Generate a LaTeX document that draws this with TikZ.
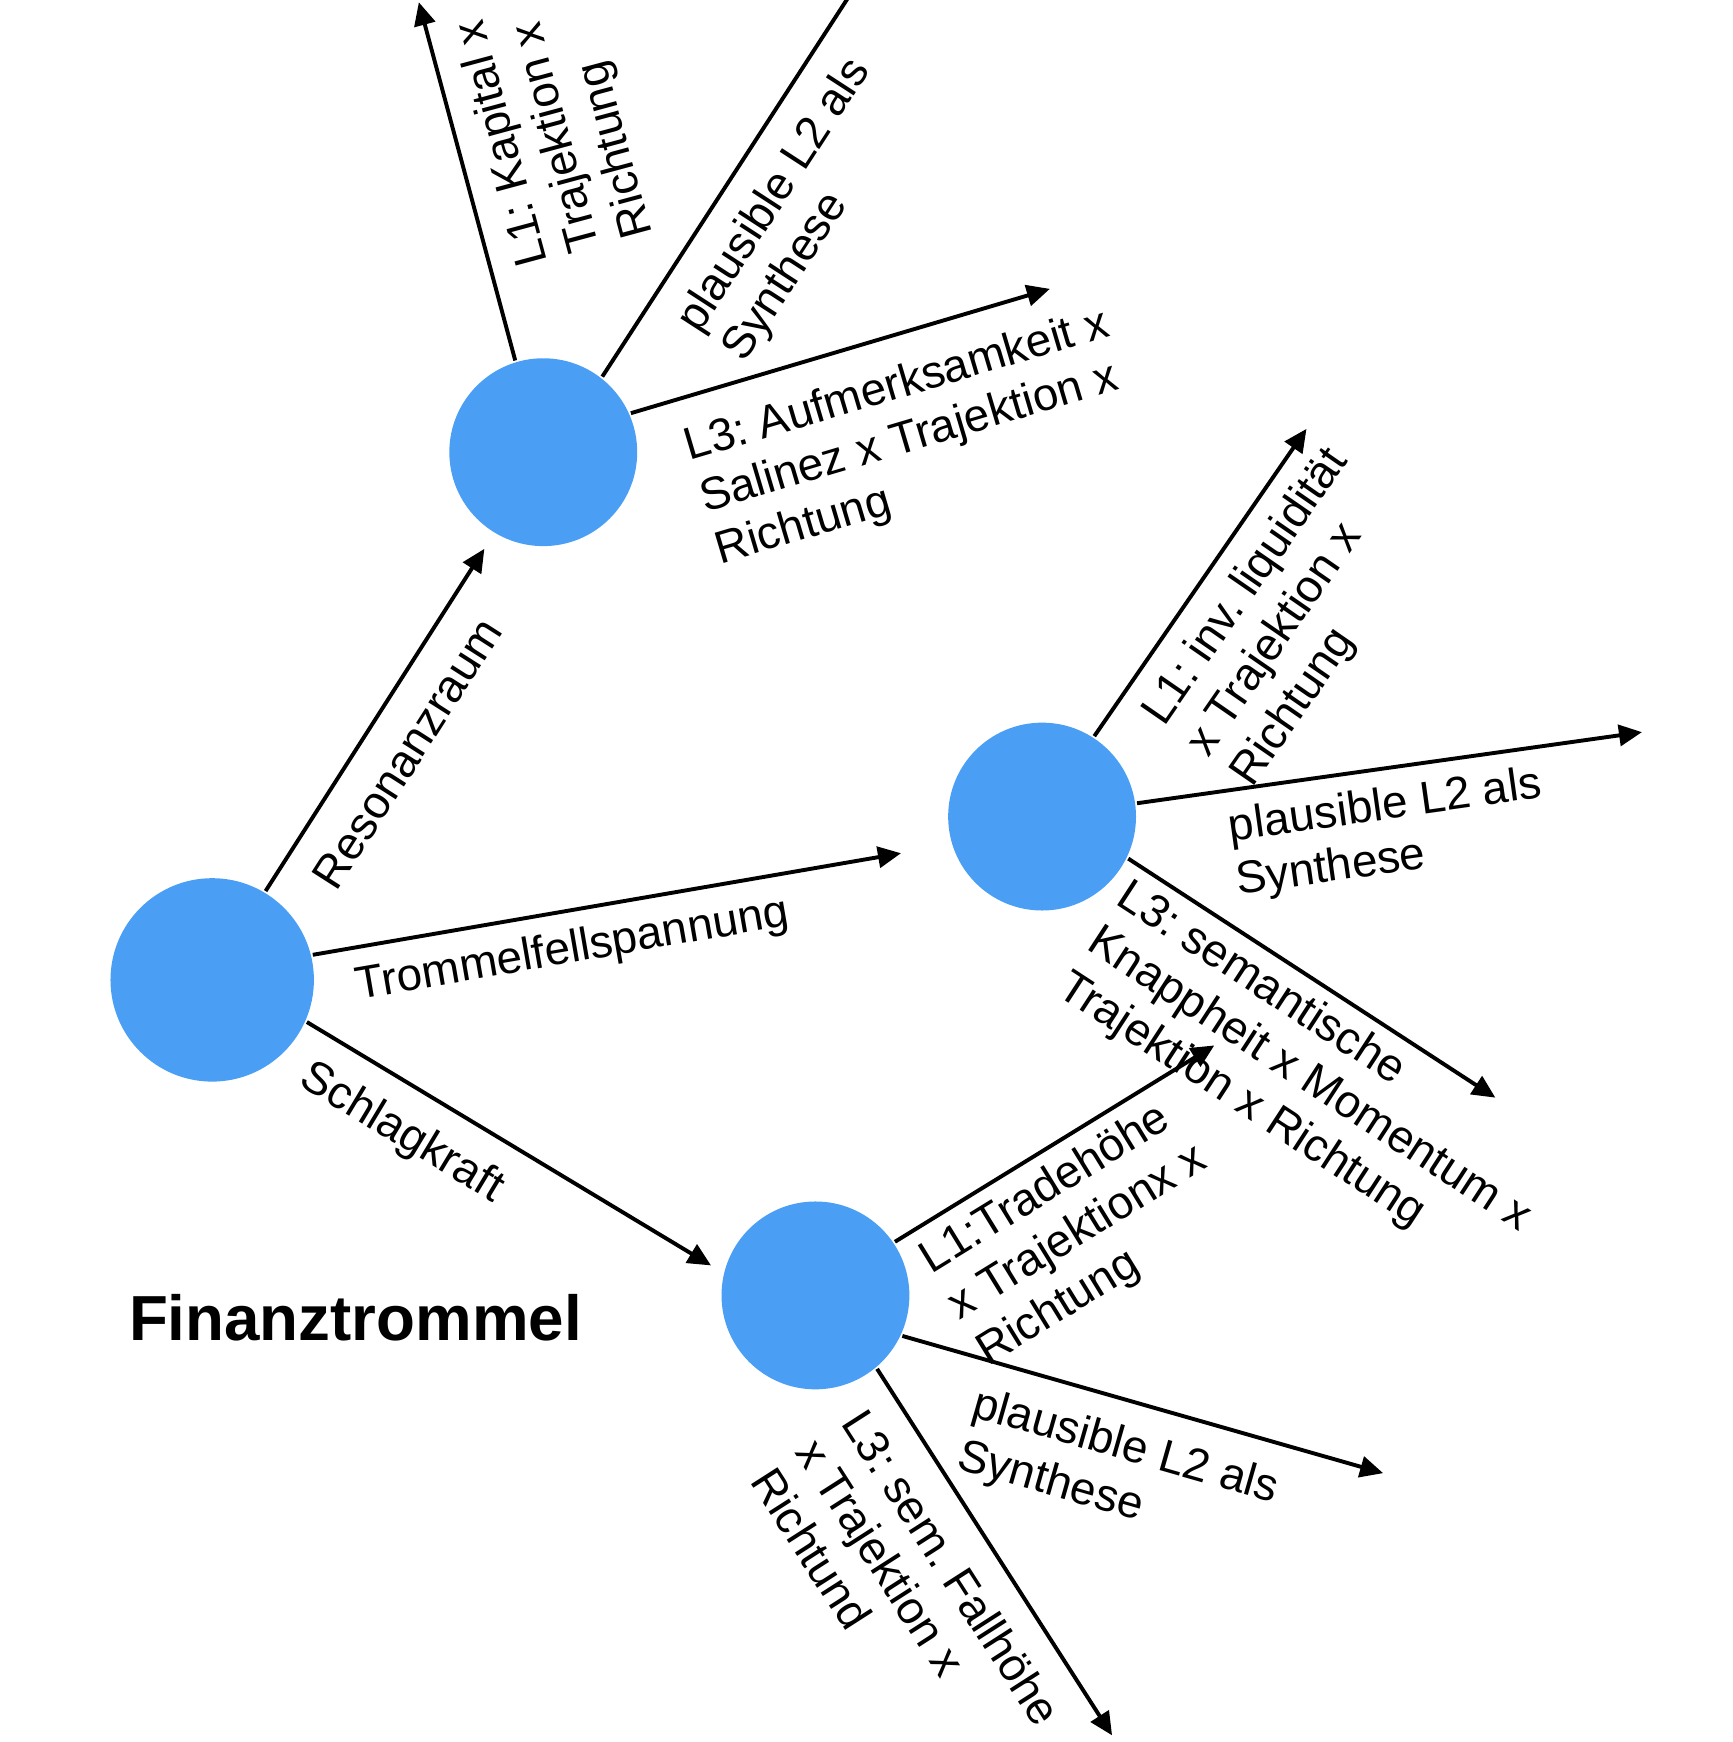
\documentclass[tikz,border=0pt]{standalone}
\usepackage{fontspec}
\setmainfont{Liberation Sans}
\usepackage{tikz}
\usetikzlibrary{arrows.meta}
\frenchspacing
\definecolor{kreis}{RGB}{74,159,245}
\tikzstyle{knoten}=[circle,fill=kreis,draw=none,inner sep=0pt,minimum size=1.69cm]
\tikzstyle{lbl}=[sloped,allow upside down,anchor=north west,align=left,inner xsep=0pt,inner ysep=5.5pt,font=\fontsize{11.7}{13.8}\selectfont]
\tikzstyle{titel}=[anchor=base,font=\fontsize{16.3}{19}\selectfont\bfseries]

\begin{document}
\begin{tikzpicture}[->,>={Triangle[length=5.9pt,width=5.4pt]},x=0.01cm,y=-0.01cm,line width=1pt]
	\clip (0,0) rectangle (1559,1568);
	\node[knoten,minimum size=1.83cm] (n0) at (191,882) {};
	\node[knoten] (n1) at (489,407) {};
	\node[knoten] (n2) at (938,735) {};
	\node[knoten] (n3) at (734,1166) {};
	\node[titel] (name) at (320,1207) {Finanztrommel};
		% free arrow ends
		\coordinate (e1) at (436,494);
		\coordinate (e2) at (811,768);
		\coordinate (e3) at (640,1139);
		\coordinate (e4) at (377,2);
		\coordinate (e5) at (788,-40);
		\coordinate (e6) at (945,260);
		\coordinate (e7) at (1176,386);
		\coordinate (e8) at (1478,659);
		\coordinate (e9) at (1346,988);
		\coordinate (e10) at (1093,941);
		\coordinate (e11) at (1245,1326);
		\coordinate (e12) at (1001,1562);
	\path
		(n0.59.8)	edge node[lbl,pos=0.087,inner ysep=7pt] {Resonanzraum}	(e1)
		(n0.14.8)	edge node[lbl,pos=0.06,inner ysep=4.3pt] {Trommelfellspannung}	(e2)
		(n0.-24.6)	edge node[lbl,pos=0.047,inner ysep=6pt] {Schlagkraft}	(e3);
	\path
		(n1.107.2)	edge node[lbl,pos=0.23,inner ysep=5.7pt] {L1: Kapital x\\Trajektion x\\Richtung}	(e4)
		(n1.52.3)	edge node[lbl,pos=0.1715,inner ysep=6pt] {plausible L2 als\\Synthese}	(e5)
		(n1.24.2)	edge node[lbl,pos=0.094,inner ysep=7pt] {L3: Aufmerksamkeit x\\Salinez x Trajektion x\\Richtung}	(e6);
	\path
		(n2.57.2)	edge node[lbl,pos=0.12,inner ysep=4.5pt] {L1: inv. liquidität\\x Trajektion x\\Richtung}	(e7)
		(n2.8.6)	edge node[lbl,pos=0.168,inner ysep=4pt] {plausible L2 als\\Synthese}	(e8)
		(n2.-26.3)	edge node[lbl,pos=0.026,inner ysep=2.6pt] {L3: semantische\\Knappheit x Momentum x\\Trajektion x Richtung}	(e9);
	\path
		(n3.34.4)	edge node[lbl,pos=0.033,inner ysep=3pt] {L1:Tradehöhe\\x Trajektionx x\\Richtung}	(e10)
		(n3.-25.9)	edge node[lbl,pos=0.171,inner ysep=6pt] {plausible L2 als\\Synthese}	(e11)
		(n3.-50.5)	edge node[lbl,pos=0.055,inner ysep=6.5pt] {L3: sem. Fallhöhe\\x Trajektion x\\Richtund}	(e12);
\end{tikzpicture}
\end{document}
